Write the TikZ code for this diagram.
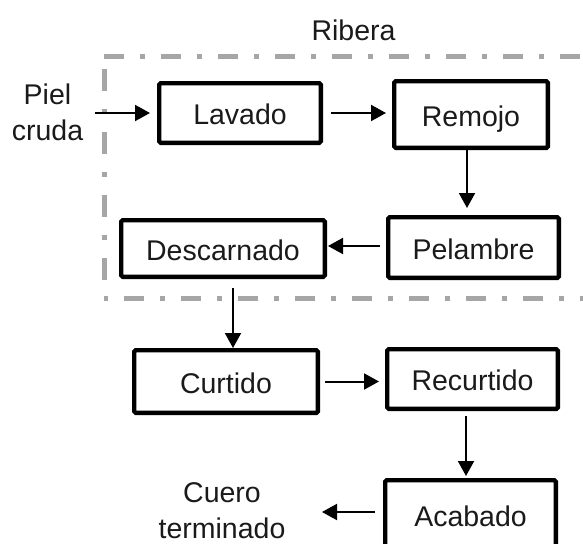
\documentclass[tikz,border=0pt]{standalone}
\usepackage{fontspec}
\setmainfont{Liberation Sans}
\usetikzlibrary{arrows.meta}
\definecolor{ribgray}{HTML}{A6A6A6}
\definecolor{txt}{HTML}{1A1A1A}
\begin{document}
\begin{tikzpicture}[x=1pt,y=-1pt,
  box/.style={draw=black, line width=4.3pt, rounded corners=1.5pt, inner sep=0pt,
    text=txt, text height=23pt, text depth=0pt, font=\fontsize{28.5}{35}\selectfont},
  lbl/.style={inner sep=0pt, align=center, text=txt, font=\fontsize{28.5}{36}\selectfont},
  arr/.style={line width=2pt, -{Triangle[length=15pt,width=16pt]}},
  rib/.style={ribgray, line width=5pt, dash pattern=on 20pt off 16pt on 5pt off 16pt}]
\useasboundingbox (0,0) rectangle (583,543);

% Ribera region
\coordinate (rt1) at (104,56.5);
\coordinate (rt2) at (590,56.5);
\coordinate (rl1) at (104,69);
\coordinate (rl2) at (104,280);
\coordinate (rb1) at (104,298);
\coordinate (rb2) at (590,298);
\draw[rib] (rt1) -- (rt2);
\draw[rib, dash pattern=on 22pt off 18pt on 5pt off 18pt] (rl1) -- (rl2);
\draw[rib, dash phase=37pt] (rb1) -- (rb2);
\node[lbl] (ribera) at (353.5,30) {Ribera};

% Boxes
\node[box, minimum width=161.7pt, minimum height=59.7pt] (lavado) at (240,113) {Lavado};
\node[box, minimum width=153.7pt, minimum height=66.7pt] (remojo) at (471,114.5) {Remojo};
\node[box, minimum width=170.7pt, minimum height=60.7pt] (pelambre) at (473.5,247.5) {Pelambre};
\node[box, minimum width=203.7pt, minimum height=56.7pt] (descarnado) at (223,248.5) {Descarnado};
\node[box, minimum width=183.7pt, minimum height=62.7pt] (curtido) at (226,381.5) {Curtido};
\node[box, minimum width=170.7pt, minimum height=59.7pt] (recurtido) at (472.5,379) {Recurtido};
\node[box, minimum width=170.7pt, minimum height=69.7pt] (acabado) at (470.5,515) {Acabado};

% Labels
\node[lbl] (piel) at (47.5,112.5) {Piel\\cruda};
\node[lbl] (cuero) at (222,511) {Cuero\\terminado};
\coordinate (pin) at (95,113);
\coordinate (cueroin) at (322,512);

% Arrows
\draw[arr, shorten >=7pt] (pin) -- (pin -| lavado.west);
\draw[arr, shorten <=8pt, shorten >=6pt] (lavado.east) -- (lavado.east -| remojo.west);
\draw[arr, shorten >=7pt] ([xshift=-4pt]remojo.south) -- ([xshift=-4pt]remojo.south |- pelambre.north);
\draw[arr, shorten <=6pt, shorten >=1pt] ([yshift=1.5pt]pelambre.west) -- ([yshift=1.5pt]pelambre.west -| descarnado.east);
\draw[arr, shorten <=9pt] ([xshift=10pt]descarnado.south) -- ([xshift=10pt]descarnado.south |- curtido.north);
\draw[arr, shorten <=5pt, shorten >=6pt] (curtido.east) -- (curtido.east -| recurtido.west);
\draw[arr, shorten <=5pt, shorten >=2pt] ([xshift=-6.5pt]recurtido.south) -- ([xshift=-6.5pt]recurtido.south |- acabado.north);
\draw[arr, shorten <=8pt] ([yshift=3pt]acabado.west) -- (cueroin);
\end{tikzpicture}
\end{document}
